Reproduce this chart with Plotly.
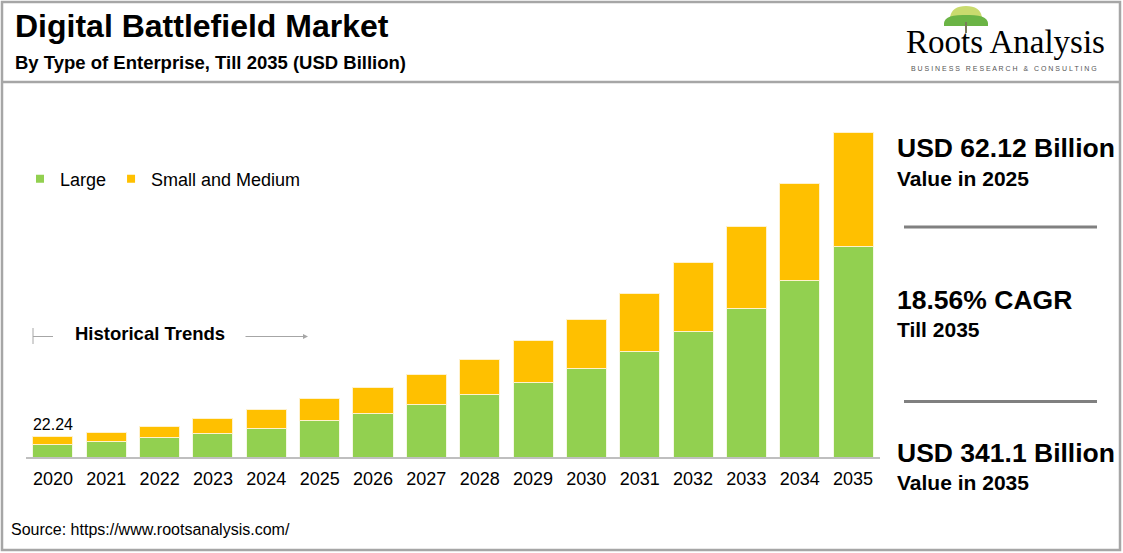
import plotly.graph_objects as go

W, H = 1123, 553

years = [str(y) for y in range(2020, 2036)]
large = [13.9, 16.8, 20.6, 24.8, 30.8, 38.5, 45.9, 55.4, 65.9, 78.5, 93.3, 111.2, 132.2, 156.4, 185.9, 221.7]
small_medium = [8.34, 9.8, 12.3, 15.5, 19.0, 23.62, 27.1, 31.2, 36.5, 43.9, 51.2, 60.7, 72.3, 86.0, 101.8, 119.4]
total_labels = ["22.24"] + [""] * 15

title = "Digital Battlefield Market"
subtitle = "By Type of Enterprise, Till 2035 (USD Billion)"
source = "Source: https://www.rootsanalysis.com/"
stats = [("USD 62.12 Billion", "Value in 2025"), ("18.56% CAGR", "Till 2035"), ("USD 341.1 Billion", "Value in 2035")]

GREEN = "#92D050"
ORANGE = "#FFC000"
GRAY = "#A6A6A6"
FONT = "Liberation Sans, Arial, sans-serif"


def px(x):
    return x / W


def py(y):
    return 1 - y / H


fig = go.Figure()
fig.add_trace(go.Bar(x=years, y=large, name="Large", showlegend=False,
                     marker=dict(color=GREEN, line=dict(color="#F4F8E4", width=1))))
fig.add_trace(go.Bar(x=years, y=small_medium, name="Small and Medium", showlegend=False,
                     marker=dict(color=ORANGE, line=dict(color="#FFF2CC", width=1)),
                     text=total_labels, textposition="outside", cliponaxis=False,
                     textfont=dict(size=18, color="black", family=FONT)))
# legend entries with small square symbols
fig.add_trace(go.Scatter(x=[years[0]], y=[None], mode="markers", name="Large",
                         marker=dict(symbol="square", size=8, color=GREEN)))
fig.add_trace(go.Scatter(x=[years[0]], y=[None], mode="markers", name="Small and Medium",
                         marker=dict(symbol="square", size=8, color=ORANGE)))

scale_top = (457.3 - 120) / 0.9508

shapes = []
shapes.append(dict(type="rect", xref="paper", yref="paper", x0=px(2), x1=px(1120), y0=py(550), y1=py(2),
                   line=dict(color=GRAY, width=2.5), layer="below"))
shapes.append(dict(type="line", xref="paper", yref="paper", x0=px(2), x1=px(1120), y0=py(82), y1=py(82),
                   line=dict(color=GRAY, width=2.5)))
for yy in (227, 401.5):
    shapes.append(dict(type="line", xref="paper", yref="paper", x0=px(904), x1=px(1097), y0=py(yy), y1=py(yy),
                       line=dict(color="#808080", width=3)))
shapes.append(dict(type="line", xref="paper", yref="paper", x0=px(33), x1=px(33), y0=py(328), y1=py(344),
                   line=dict(color=GRAY, width=1)))
shapes.append(dict(type="line", xref="paper", yref="paper", x0=px(33), x1=px(53), y0=py(336.5), y1=py(336.5),
                   line=dict(color=GRAY, width=1)))
# simple tree logo
shapes.append(dict(type="path", xref="paper", yref="paper",
                   path=f"M {px(950)},{py(17)} Q {px(952)},{py(6)} {px(966)},{py(6)} Q {px(980)},{py(6)} {px(982)},{py(17)} Z",
                   fillcolor="#C9DB6E", line=dict(width=0)))
shapes.append(dict(type="path", xref="paper", yref="paper",
                   path=f"M {px(944)},{py(26)} Q {px(942)},{py(14)} {px(966)},{py(15)} Q {px(990)},{py(14)} {px(988)},{py(26)} Z",
                   fillcolor="#6BB445", line=dict(width=0)))
shapes.append(dict(type="line", xref="paper", yref="paper", x0=px(966), x1=px(966), y0=py(22), y1=py(33),
                   line=dict(color="#7A7A5A", width=2)))

annotations = []


def txt(x, y, s, size, bold=False, color="black", family=FONT, xanchor="left"):
    annotations.append(dict(xref="paper", yref="paper", x=px(x), y=py(y), text=f"<b>{s}</b>" if bold else s,
                            showarrow=False, xanchor=xanchor, yanchor="middle",
                            font=dict(size=size, color=color, family=family)))


txt(13, 26, title, 32, bold=True)
txt(13, 62, subtitle, 18.5, bold=True)
txt(9, 529, source, 16)
txt(73, 333, "Historical Trends", 18.5, bold=True)
annotations.append(dict(xref="paper", yref="paper", x=px(308), y=py(336.5), ax=-64, ay=0, showarrow=True,
                        arrowhead=2, arrowsize=1, arrowwidth=1, arrowcolor=GRAY, text=""))

stat_y = [(148, 178), (300, 329), (453, 482)]
for (big, small), (y1, y2) in zip(stats, stat_y):
    txt(895, y1, big, 26.5, bold=True)
    txt(895, y2, small, 21, bold=True)

txt(1005, 42, "Roots Analysis", 33, family="Liberation Serif, Times New Roman, serif", xanchor="center")
txt(1004, 68, "B U S I N E S S &nbsp; R E S E A R C H &nbsp; &amp; &nbsp; C O N S U L T I N G", 7,
    color="#555555", xanchor="center")

fig.update_layout(
    width=W, height=H,
    margin=dict(l=0, r=0, t=0, b=0, autoexpand=False),
    paper_bgcolor="white", plot_bgcolor="white",
    barmode="stack", bargap=0.25,
    font=dict(family=FONT, color="black"),
    showlegend=True,
    legend=dict(orientation="h", traceorder="normal", x=px(20), y=py(179), xanchor="left", yanchor="middle",
                font=dict(size=18, color="black", family=FONT), bgcolor="rgba(0,0,0,0)"),
    xaxis=dict(type="category", range=[-0.5, len(years) - 0.5], domain=[px(26.3), px(879.7)],
               showgrid=False, zeroline=False, showline=True,
               linecolor="#BFBFBF", linewidth=1.5, ticks="", tickfont=dict(size=18, color="black"),
               ticklabelstandoff=4, fixedrange=True),
    yaxis=dict(domain=[py(457.3), py(120)], range=[0, scale_top], visible=False, fixedrange=True),
    uniformtext=dict(mode=False),
    shapes=shapes, annotations=annotations,
)

fig.write_html("out.html", post_script="document.body.style.margin='0';", config={"displayModeBar": False})
